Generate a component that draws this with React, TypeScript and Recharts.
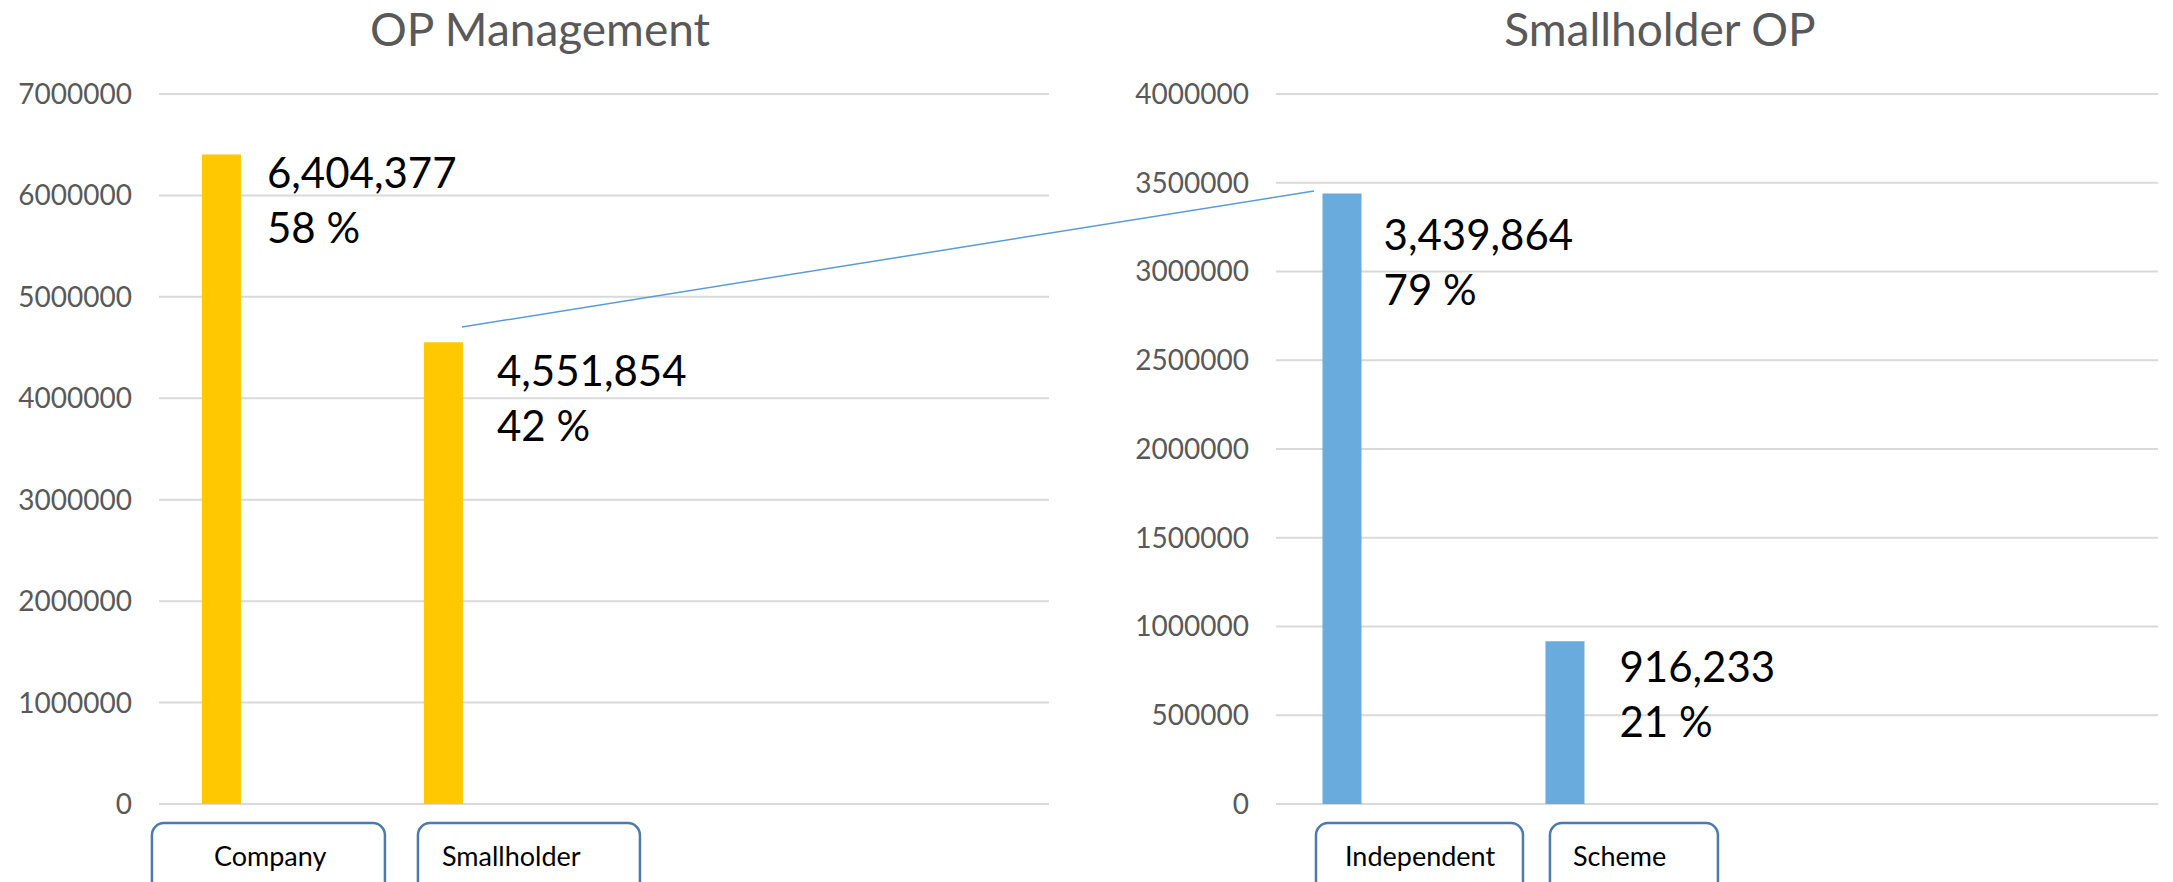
import React from "react";
import { BarChart, Bar, XAxis, YAxis, CartesianGrid, LabelList } from "recharts";

const mgmtCategories = ["Company", "Smallholder"];
const mgmtValues = [6404377, 4551854];
const mgmtTicks = [0, 1000000, 2000000, 3000000, 4000000, 5000000, 6000000, 7000000];

const smallCategories = ["Independent", "Scheme"];
const smallValues = [3439864, 916233];
const smallTicks = [0, 500000, 1000000, 1500000, 2000000, 2500000, 3000000, 3500000, 4000000];

const FONT = "Lato, 'Open Sans', sans-serif";

// label boxes under the axis (offset from bar centre, width, text padding) and value label nudges
const mgmtBoxes = [{ dx: -69, w: 233, pad: 62 }, { dx: -25, w: 222, pad: 24 }];
const smallBoxes = [{ dx: -26, w: 207, pad: 29 }, { dx: -15, w: 168, pad: 23 }];
const mgmtNudge = [{ dx: 26, dy: 18 }, { dx: 34, dy: 28 }];
const smallNudge = [{ dx: 22, dy: 41 }, { dx: 35, dy: 25 }];

interface PanelProps {
  title: string;
  categories: string[];
  values: number[];
  ticks: number[];
  color: string;
  left: number;
  width: number;
  yWidth: number;
  marginRight: number;
  domain: [number, number];
  boxes: { dx: number; w: number; pad: number }[];
  nudges: { dx: number; dy: number }[];
  titleX: number;
}

function Panel(p: PanelProps) {
  const total = p.values.reduce((a, b) => a + b, 0);
  const data = p.categories.map((name, i) => ({
    idx: i,
    name,
    value: p.values[i],
    share: Math.round((p.values[i] / total) * 100),
  }));

  const renderTick = (props: any) => {
    const { x, y, index } = props;
    const box = p.boxes[index];
    if (!box) return <g />;
    const bx = x + box.dx;
    return (
      <g>
        <rect x={bx} y={y + 19} width={box.w} height={90} rx={12} ry={12} fill="#fff" stroke="#4A7BAA" strokeWidth={2.5} />
        <text x={bx + box.pad} y={y + 51} dominantBaseline="central" fontSize={27} fill="#000" fontFamily={FONT}>
          {p.categories[index]}
        </text>
      </g>
    );
  };

  const renderLabel = (props: any) => {
    const { x, y, width, index } = props;
    const row = data[index];
    const n = p.nudges[index];
    const lx = x + width + n.dx;
    const ly = y + n.dy;
    return (
      <g>
        <text x={lx} y={ly} dominantBaseline="central" fontSize={42} fill="#000" fontFamily={FONT}>
          {row.value.toLocaleString("en-US")}
        </text>
        <text x={lx} y={ly + 55} dominantBaseline="central" fontSize={42} fill="#000" fontFamily={FONT}>
          {row.share + " %"}
        </text>
      </g>
    );
  };

  return (
    <div style={{ position: "absolute", left: p.left, top: 0, width: p.width, height: 882 }}>
      <div
        style={{
          position: "absolute",
          left: p.titleX - p.left - 300,
          width: 600,
          top: 0,
          textAlign: "center",
          fontFamily: FONT,
          fontSize: 46,
          lineHeight: "58px",
          color: "#595959",
        }}
      >
        {p.title}
      </div>
      <BarChart
        width={p.width}
        height={882}
        data={data}
        margin={{ top: 94, right: p.marginRight, bottom: 0, left: 0 }}
      >
        <CartesianGrid vertical={false} stroke="#D9D9D9" strokeWidth={2} />
        <XAxis
          type="number"
          dataKey="idx"
          domain={p.domain}
          ticks={[0, 1]}
          allowDataOverflow
          height={78}
          axisLine={false}
          tickLine={false}
          tickSize={0}
          tickMargin={0}
          interval={0}
          tick={renderTick}
        />
        <YAxis
          width={p.yWidth}
          domain={[0, p.ticks[p.ticks.length - 1]]}
          ticks={p.ticks}
          interval={0}
          axisLine={false}
          tickLine={false}
          tickSize={0}
          tickMargin={27}
          tick={{ fill: "#595959", fontSize: 28, fontFamily: FONT }}
        />
        <Bar dataKey="value" fill={p.color} barSize={39} isAnimationActive={false}>
          <LabelList dataKey="value" content={renderLabel} />
        </Bar>
      </BarChart>
    </div>
  );
}

export default function App() {
  return (
    <div style={{ position: "absolute", left: 0, top: 0, width: 2173, height: 882, background: "#fff", overflow: "hidden" }}>
      <Panel
        title="OP Management"
        categories={mgmtCategories}
        values={mgmtValues}
        ticks={mgmtTicks}
        color="#FFC800"
        left={0}
        width={1100}
        yWidth={159}
        marginRight={51}
        domain={[-0.279, 3.73]}
        boxes={mgmtBoxes}
        nudges={mgmtNudge}
        titleX={540}
      />
      <Panel
        title="Smallholder OP"
        categories={smallCategories}
        values={smallValues}
        ticks={smallTicks}
        color="#6AABDD"
        left={1100}
        width={1073}
        yWidth={176}
        marginRight={15}
        domain={[-0.296, 3.66]}
        boxes={smallBoxes}
        nudges={smallNudge}
        titleX={1660}
      />
      {/* connector from the Smallholder bar to the breakdown chart */}
      <svg width={2173} height={882} style={{ position: "absolute", left: 0, top: 0, pointerEvents: "none" }}>
        <line x1={462} y1={327} x2={1314} y2={191} stroke="#5B9BD5" strokeWidth={1.5} />
      </svg>
    </div>
  );
}
